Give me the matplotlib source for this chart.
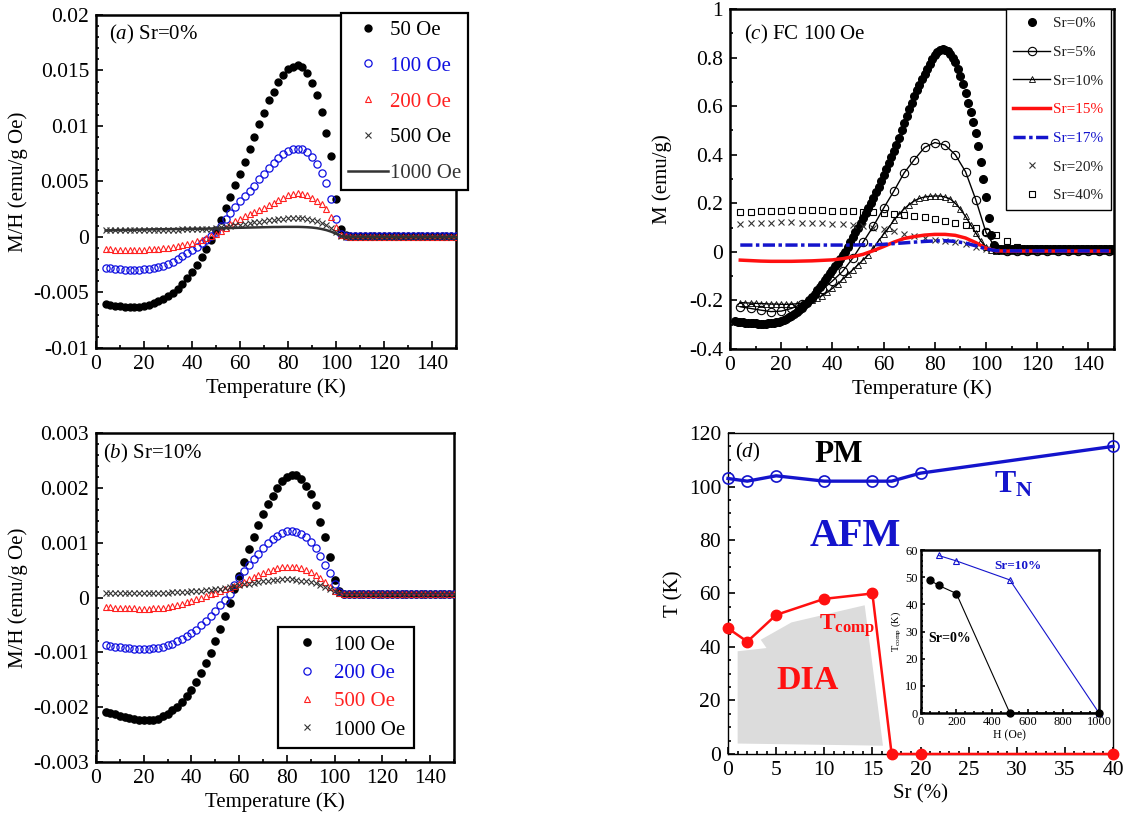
import numpy as np
import matplotlib
matplotlib.use('Agg')
import matplotlib.pyplot as plt
from matplotlib.ticker import MultipleLocator, AutoMinorLocator, FuncFormatter

plt.rcParams['font.family'] = ['Liberation Serif', 'DejaVu Serif']
plt.rcParams['mathtext.fontset'] = 'custom'
plt.rcParams['mathtext.rm'] = 'Liberation Serif'
plt.rcParams['mathtext.it'] = 'Liberation Serif:italic'
plt.rcParams['mathtext.bf'] = 'Liberation Serif:bold'
plt.rcParams['axes.unicode_minus'] = False

BLUE = '#1414cc'
RED = '#ff1010'

# ---------------- data ----------------
# (a) Sr=0%, M/H in 1e-3 emu/g Oe, T = 4..150 K step 2
T_a = np.arange(4, 151, 2)
a_50 = np.array([
    -6.05, -6.15, -6.2, -6.25, -6.28, -6.3, -6.3, -6.28, -6.22, -6.12,
    -5.98, -5.8, -5.58, -5.32, -5.02, -4.65, -4.22, -3.72, -3.15, -2.5,
    -1.8, -1.05, -0.25, 0.6, 1.55, 2.6, 3.6, 4.65, 5.7, 6.8,
    7.95, 9.05, 10.2, 11.2, 12.3, 13.1, 13.95, 14.6, 15.1, 15.35,
    15.45, 15.3, 14.8, 13.9, 12.75, 11.3, 9.4, 7.3, 3.45, 0.7,
    0.15, 0.1, 0.1, 0.1, 0.1, 0.1, 0.1, 0.1, 0.1, 0.1, 0.1, 0.1,
    0.1, 0.1, 0.1, 0.1, 0.1, 0.1, 0.1, 0.1, 0.1, 0.1, 0.1, 0.1]) * 1e-3
a_100 = np.array([
    -2.75, -2.8, -2.85, -2.9, -2.93, -2.95, -2.95, -2.94, -2.92, -2.87,
    -2.8, -2.7, -2.58, -2.42, -2.22, -2.0, -1.75, -1.48, -1.18, -0.88,
    -0.58, -0.28, 0.05, 0.45, 1.0, 1.6, 2.15, 2.7, 3.2, 3.65,
    4.12, 4.63, 5.2, 5.65, 6.2, 6.65, 7.1, 7.48, 7.72, 7.9,
    7.97, 7.9, 7.65, 7.2, 6.55, 5.8, 4.9, 3.4, 1.65, 0.3,
    0.08, 0.05, 0.05, 0.05, 0.05, 0.05, 0.05, 0.05, 0.05, 0.05, 0.05, 0.05,
    0.05, 0.05, 0.05, 0.05, 0.05, 0.05, 0.05, 0.05, 0.05, 0.05, 0.05, 0.05]) * 1e-3
a_200 = np.array([
    -1.08, -1.12, -1.14, -1.15, -1.16, -1.16, -1.16, -1.15, -1.14, -1.12,
    -1.09, -1.05, -1.0, -0.95, -0.88, -0.8, -0.7, -0.6, -0.5, -0.38,
    -0.25, -0.1, 0.08, 0.3, 0.55, 0.85, 1.15, 1.45, 1.65, 1.85,
    2.05, 2.25, 2.45, 2.65, 2.88, 3.1, 3.35, 3.55, 3.75, 3.9,
    3.95, 3.9, 3.75, 3.5, 3.25, 2.95, 2.55, 1.8, 0.9, 0.2,
    0.05, 0.03, 0.03, 0.03, 0.03, 0.03, 0.03, 0.03, 0.03, 0.03, 0.03, 0.03,
    0.03, 0.03, 0.03, 0.03, 0.03, 0.03, 0.03, 0.03, 0.03, 0.03, 0.03, 0.03]) * 1e-3
a_500 = np.array([
    0.6, 0.6, 0.6, 0.6, 0.61, 0.61, 0.62, 0.62, 0.63, 0.63,
    0.64, 0.64, 0.65, 0.65, 0.66, 0.67, 0.68, 0.69, 0.7, 0.71,
    0.72, 0.74, 0.76, 0.8, 0.86, 0.92, 0.98, 1.04, 1.1, 1.17,
    1.24, 1.31, 1.38, 1.44, 1.5, 1.55, 1.6, 1.64, 1.67, 1.7,
    1.7, 1.68, 1.62, 1.53, 1.42, 1.28, 1.1, 0.8, 0.45, 0.12,
    0.03, 0.02, 0.02, 0.02, 0.02, 0.02, 0.02, 0.02, 0.02, 0.02, 0.02, 0.02,
    0.02, 0.02, 0.02, 0.02, 0.02, 0.02, 0.02, 0.02, 0.02, 0.02, 0.02, 0.02]) * 1e-3
a_1000 = np.array([
    0.58, 0.6, 0.61, 0.62, 0.63, 0.64, 0.65, 0.66, 0.67, 0.68,
    0.69, 0.7, 0.7, 0.71, 0.71, 0.72, 0.72, 0.73, 0.73, 0.74,
    0.74, 0.75, 0.76, 0.77, 0.78, 0.8, 0.81, 0.82, 0.83, 0.84,
    0.85, 0.86, 0.87, 0.88, 0.89, 0.9, 0.9, 0.91, 0.91, 0.91,
    0.91, 0.9, 0.88, 0.85, 0.8, 0.72, 0.62, 0.48, 0.3, 0.1,
    0.02, 0.01, 0.01, 0.01, 0.01, 0.01, 0.01, 0.01, 0.01, 0.01, 0.01, 0.01,
    0.01, 0.01, 0.01, 0.01, 0.01, 0.01, 0.01, 0.01, 0.01, 0.01, 0.01, 0.01]) * 1e-3

# (b) Sr=10%, M/H in 1e-3 emu/g Oe
T_b = np.arange(4, 151, 2)
b_100 = np.array([
    -2.08, -2.11, -2.13, -2.16, -2.18, -2.2, -2.22, -2.23, -2.24, -2.24,
    -2.23, -2.21, -2.17, -2.12, -2.06, -1.99, -1.9, -1.8, -1.68, -1.54,
    -1.38, -1.2, -1.01, -0.8, -0.57, -0.34, -0.1, 0.16, 0.4, 0.64,
    0.88, 1.1, 1.32, 1.52, 1.7, 1.86, 2.0, 2.12, 2.2, 2.24,
    2.23, 2.16, 2.04, 1.88, 1.68, 1.38, 1.1, 0.73, 0.32, 0.12,
    0.07, 0.06, 0.06, 0.06, 0.06, 0.06, 0.06, 0.06, 0.06, 0.06, 0.06, 0.06,
    0.06, 0.06, 0.06, 0.06, 0.06, 0.06, 0.06, 0.06, 0.06, 0.06, 0.06, 0.06]) * 1e-3
b_200 = np.array([
    -0.87, -0.88, -0.9, -0.91, -0.92, -0.93, -0.94, -0.94, -0.94, -0.94,
    -0.93, -0.92, -0.9, -0.87, -0.84, -0.8, -0.76, -0.71, -0.65, -0.59,
    -0.51, -0.42, -0.33, -0.24, -0.14, -0.04, 0.07, 0.22, 0.36, 0.49,
    0.6, 0.7, 0.8, 0.9, 0.99, 1.07, 1.13, 1.18, 1.21, 1.22,
    1.2, 1.16, 1.1, 1.02, 0.9, 0.75, 0.6, 0.45, 0.24, 0.1,
    0.07, 0.06, 0.06, 0.06, 0.06, 0.06, 0.06, 0.06, 0.06, 0.06, 0.06, 0.06,
    0.06, 0.06, 0.06, 0.06, 0.06, 0.06, 0.06, 0.06, 0.06, 0.06, 0.06, 0.06]) * 1e-3
b_500 = np.array([
    -0.17, -0.18, -0.19, -0.19, -0.2, -0.2, -0.2, -0.21, -0.21, -0.21,
    -0.2, -0.2, -0.19, -0.18, -0.16, -0.14, -0.12, -0.09, -0.06, -0.03,
    0.0, 0.03, 0.06, 0.09, 0.12, 0.15, 0.18, 0.21, 0.25, 0.29,
    0.33, 0.37, 0.41, 0.45, 0.48, 0.51, 0.53, 0.55, 0.56, 0.56,
    0.55, 0.53, 0.5, 0.46, 0.41, 0.35, 0.28, 0.2, 0.12, 0.08,
    0.07, 0.06, 0.06, 0.06, 0.06, 0.06, 0.06, 0.06, 0.06, 0.06, 0.06, 0.06,
    0.06, 0.06, 0.06, 0.06, 0.06, 0.06, 0.06, 0.06, 0.06, 0.06, 0.06, 0.06]) * 1e-3
b_1000 = np.array([
    0.08, 0.08, 0.08, 0.08, 0.08, 0.08, 0.08, 0.08, 0.08, 0.08,
    0.085, 0.085, 0.09, 0.09, 0.095, 0.1, 0.1, 0.105, 0.11, 0.115,
    0.12, 0.13, 0.14, 0.15, 0.16, 0.175, 0.19, 0.205, 0.22, 0.24,
    0.255, 0.27, 0.285, 0.3, 0.31, 0.32, 0.325, 0.33, 0.33, 0.33,
    0.32, 0.31, 0.3, 0.28, 0.26, 0.23, 0.2, 0.16, 0.12, 0.08,
    0.07, 0.06, 0.06, 0.06, 0.06, 0.06, 0.06, 0.06, 0.06, 0.06, 0.06, 0.06,
    0.06, 0.06, 0.06, 0.06, 0.06, 0.06, 0.06, 0.06, 0.06, 0.06, 0.06, 0.06]) * 1e-3

# (c) FC 100 Oe, M in emu/g
T_c0 = np.arange(2, 151, 1)
c_0 = np.array([
    -0.285, -0.287, -0.289, -0.29, -0.291, -0.292, -0.293, -0.294, -0.295, -0.296,
    -0.296, -0.296, -0.296, -0.295, -0.294, -0.292, -0.29, -0.288, -0.285, -0.281,
    -0.276, -0.27, -0.263, -0.255, -0.247, -0.239, -0.23, -0.22, -0.21, -0.198,
    -0.185, -0.172, -0.159, -0.145, -0.131, -0.117, -0.103, -0.089, -0.075, -0.06,
    -0.045, -0.03, -0.015, 0.0, 0.02, 0.04, 0.06, 0.08, 0.1, 0.12,
    0.14, 0.16, 0.18, 0.2, 0.222, 0.245, 0.268, 0.291, 0.315, 0.34,
    0.365, 0.39, 0.415, 0.44, 0.47, 0.5, 0.53, 0.56, 0.59, 0.615,
    0.64, 0.665, 0.688, 0.71, 0.732, 0.755, 0.775, 0.793, 0.81, 0.824,
    0.833, 0.836, 0.833, 0.826, 0.815, 0.8, 0.78, 0.755, 0.725, 0.69,
    0.655, 0.615, 0.575, 0.535, 0.49, 0.435, 0.37, 0.3, 0.225, 0.14,
    0.07, 0.03, 0.015,
    0.01, 0.01, 0.01, 0.01, 0.01, 0.01, 0.01, 0.01, 0.01, 0.01,
    0.01, 0.01, 0.01, 0.01, 0.01, 0.01, 0.01, 0.01, 0.01, 0.01,
    0.01, 0.01, 0.01, 0.01, 0.01, 0.01, 0.01, 0.01, 0.01, 0.01,
    0.01, 0.01, 0.01, 0.01, 0.01, 0.01, 0.01, 0.01, 0.01, 0.01,
    0.01, 0.01, 0.01, 0.01, 0.01, 0.01])
T_c4 = np.arange(4, 149, 4)
c_5 = np.array([
    -0.226, -0.233, -0.24, -0.246, -0.244, -0.233, -0.215, -0.19, -0.155, -0.12,
    -0.08, -0.025, 0.04, 0.106, 0.18, 0.25, 0.325, 0.38, 0.43, 0.45,
    0.44, 0.4, 0.33, 0.215, 0.08, 0.01,
    0.005, 0.005, 0.005, 0.005, 0.005, 0.005, 0.005, 0.005, 0.005, 0.005, 0.005])
T_c2 = np.arange(4, 151, 2)
c_10 = np.array([
    -0.209, -0.21, -0.211, -0.212, -0.213, -0.214, -0.215, -0.215, -0.216, -0.216,
    -0.215, -0.214, -0.211, -0.205, -0.198, -0.19, -0.18, -0.166, -0.15, -0.133,
    -0.113, -0.093, -0.073, -0.053, -0.033, -0.012, 0.015, 0.045, 0.073, 0.1,
    0.13, 0.155, 0.177, 0.195, 0.21, 0.22, 0.226, 0.229, 0.23, 0.23,
    0.226, 0.218, 0.2, 0.176, 0.146, 0.112, 0.078, 0.045, 0.02, 0.008,
    0.005, 0.005, 0.005, 0.005, 0.005, 0.005, 0.005, 0.005, 0.005, 0.005, 0.005, 0.005,
    0.005, 0.005, 0.005, 0.005, 0.005, 0.005, 0.005, 0.005, 0.005, 0.005, 0.005, 0.005])
c_15 = np.array([
    -0.034, -0.036, -0.038, -0.039, -0.039, -0.039, -0.038, -0.037, -0.035, -0.033,
    -0.028, -0.02, -0.01, 0.005, 0.022, 0.04, 0.055, 0.063, 0.069, 0.072,
    0.072, 0.068, 0.057, 0.038, 0.015, 0.004,
    0.003, 0.003, 0.003, 0.003, 0.003, 0.003, 0.003, 0.003, 0.003, 0.003, 0.003])
c_17 = np.array([
    0.028, 0.028, 0.028, 0.028, 0.028, 0.028, 0.028, 0.028, 0.028, 0.028,
    0.028, 0.028, 0.029, 0.029, 0.031, 0.034, 0.037, 0.04, 0.043, 0.045,
    0.046, 0.043, 0.036, 0.025, 0.012, 0.005,
    0.004, 0.004, 0.004, 0.004, 0.004, 0.004, 0.004, 0.004, 0.004, 0.004, 0.004])
T_c20 = np.arange(4, 121, 4)
c_20 = np.array([
    0.115, 0.118, 0.12, 0.12, 0.122, 0.122, 0.12, 0.12, 0.118, 0.115,
    0.113, 0.11, 0.105, 0.1, 0.093, 0.084, 0.075, 0.066, 0.057, 0.05,
    0.046, 0.04, 0.032, 0.022, 0.012, 0.005, 0.005, 0.005, 0.005, 0.005])
c_40 = np.array([
    0.163, 0.163, 0.168, 0.168, 0.168, 0.172, 0.172, 0.172, 0.171, 0.17,
    0.169, 0.168, 0.166, 0.163, 0.16, 0.157, 0.153, 0.148, 0.142, 0.134,
    0.127, 0.12, 0.11, 0.1, 0.083, 0.068, 0.043, 0.021, 0.012, 0.01])

# (d) phase diagram
sr = [0, 2, 5, 10, 15, 17, 20, 40]
t_n = [103, 102, 104, 102, 102, 102, 105, 115]
t_comp = [47, 42, 52, 58, 60, 0, 0, 0]
dia_x = [1.0, 4.0, 3.4, 6.6, 14.2, 16.1, 1.0]
dia_y = [38.4, 39.6, 42.7, 49.2, 55.6, 3.1, 3.9]

# inset: Tcomp vs H
h_0 = [50, 100, 200, 500, 1000]
tc_0 = [49, 47, 44, 0, 0]
h_10 = [100, 200, 500, 1000]
tc_10 = [58, 56, 49, 0]

TICK_FS = 15.5
LAB_FS = 15


def fmt(v, pos):
    s = '%g' % round(v, 6)
    return '0' if s == '-0' else s


def style(ax, xmaj, ymaj, xmin_n, ymin_n, lw=1.8, fs=TICK_FS, mlen=5):
    for s in ax.spines.values():
        s.set_linewidth(lw)
    ax.xaxis.set_major_locator(MultipleLocator(xmaj))
    ax.yaxis.set_major_locator(MultipleLocator(ymaj))
    ax.xaxis.set_minor_locator(AutoMinorLocator(xmin_n))
    ax.yaxis.set_minor_locator(AutoMinorLocator(ymin_n))
    ax.xaxis.set_major_formatter(FuncFormatter(fmt))
    ax.yaxis.set_major_formatter(FuncFormatter(fmt))
    ax.tick_params(which='both', direction='in', top=False, right=False,
                   labelsize=fs, width=1.2)
    ax.tick_params(which='major', length=mlen)
    ax.tick_params(which='minor', length=mlen * 0.5)
    ax.tick_params(axis='y', pad=5)
    ax.tick_params(axis='x', pad=5)


fig = plt.figure(figsize=(11.28, 8.27), dpi=100)

# ---------------- (a) ----------------
ax = fig.add_axes([0.0851, 0.5792, 0.3191, 0.4027])
l1, = ax.plot(T_a, a_50, 'o', color='black', ms=5, zorder=3)
l2, = ax.plot(T_a, a_100, 'o', mfc='none', mec='#1010e0', ms=5.2, mew=0.9, zorder=4)
l3, = ax.plot(T_a, a_200, '^', mfc='none', mec='#ff2020', ms=5, mew=0.8, zorder=5)
l4, = ax.plot(T_a, a_500, 'x', color='#333333', ms=4.5, mew=0.8, zorder=6)
l5, = ax.plot(T_a, a_1000, '-', color='#333333', lw=1.8, zorder=7)
ax.set_xlim(0, 150)
ax.set_ylim(-0.01, 0.02)
style(ax, 20, 0.005, 2, 5)
ax.set_xlabel('Temperature (K)', fontsize=LAB_FS, labelpad=3)
ax.set_ylabel('M/H (emu/g Oe)', fontsize=LAB_FS)
ax.text(0.035, 0.94, r'($\it{a}$) Sr=0%', transform=ax.transAxes,
        fontsize=15, va='center')
leg = ax.legend([l1, l2, l3, l4, l5], ['50 Oe', '100 Oe', '200 Oe', '500 Oe', '1000 Oe'],
                loc='upper left', bbox_to_anchor=(0.68, 1.006), fontsize=15,
                labelcolor=['black', '#1010e0', '#ff2020', 'black', '#333333'],
                frameon=True, fancybox=False, edgecolor='black', framealpha=1,
                handlelength=1.9, handletextpad=0.1, labelspacing=0.78,
                borderpad=0.35, borderaxespad=0)
leg.get_frame().set_linewidth(1.6)
leg.set_zorder(10)

# ---------------- (b) ----------------
ax = fig.add_axes([0.0851, 0.0786, 0.3174, 0.3978])
l1, = ax.plot(T_b, b_100, 'o', color='black', ms=5.2, zorder=3)
l2, = ax.plot(T_b, b_200, 'o', mfc='none', mec='#1010e0', ms=5.2, mew=0.9, zorder=4)
l3, = ax.plot(T_b, b_500, '^', mfc='none', mec='#ff2020', ms=5, mew=0.8, zorder=5)
l4, = ax.plot(T_b, b_1000, 'x', color='#333333', ms=4.5, mew=0.8, zorder=6)
ax.set_xlim(0, 150)
ax.set_ylim(-0.003, 0.003)
style(ax, 20, 0.001, 2, 5)
ax.set_xlabel('Temperature (K)', fontsize=LAB_FS, labelpad=3)
ax.set_ylabel('M/H (emu/g Oe)', fontsize=LAB_FS)
ax.text(0.02, 0.938, r'($\it{b}$) Sr=10%', transform=ax.transAxes,
        fontsize=15, va='center')
leg = ax.legend([l1, l2, l3, l4], ['100 Oe', '200 Oe', '500 Oe', '1000 Oe'],
                loc='lower left', bbox_to_anchor=(0.509, 0.043), fontsize=15,
                labelcolor=['black', '#1010e0', '#ff2020', 'black'],
                frameon=True, fancybox=False, edgecolor='black', framealpha=1,
                handlelength=2.0, handletextpad=0.3, labelspacing=0.42,
                borderpad=0.4, borderaxespad=0)
leg.get_frame().set_linewidth(1.6)

# ---------------- (c) ----------------
ax = fig.add_axes([0.6472, 0.578, 0.3404, 0.4111])
h0, = ax.plot(T_c0, c_0, 'o', color='black', ms=5.5, zorder=3)
h5, = ax.plot(T_c4, c_5, '-o', color='black', mfc='none', lw=1.0, ms=6, mew=0.8, zorder=4)
h10, = ax.plot(T_c2, c_10, '-^', color='black', mfc='none', lw=1.0, ms=4.5, mew=0.6, zorder=4)
h15, = ax.plot(T_c4, c_15, '-', color=RED, lw=2.5, zorder=5)
h17, = ax.plot(T_c4, c_17, '-.', color=BLUE, lw=2.5, dashes=[3.5, 1, 1, 1], zorder=5)
h20, = ax.plot(T_c20, c_20, 'x', color='#333333', ms=4, mew=0.8, zorder=3)
h40, = ax.plot(T_c20, c_40, 's', color='black', mfc='none', ms=4.5, mew=0.8, zorder=3)
ax.set_xlim(0, 150)
ax.set_ylim(-0.4, 1.0)
style(ax, 20, 0.2, 2, 2)
ax.set_xlabel('Temperature (K)', fontsize=LAB_FS, labelpad=3)
ax.set_ylabel('M (emu/g)', fontsize=LAB_FS, labelpad=12)
ax.text(0.036, 0.924, r'($\it{c}$) FC 100 Oe', transform=ax.transAxes,
        fontsize=15, va='center')
leg = ax.legend([h0, h5, h10, h15, h17, h20, h40],
                ['Sr=0%', 'Sr=5%', 'Sr=10%', 'Sr=15%', 'Sr=17%', 'Sr=20%', 'Sr=40%'],
                loc='upper right', bbox_to_anchor=(0.992, 1.0), fontsize=11,
                labelcolor=['#222222', '#222222', '#222222', RED, BLUE, '#222222', '#222222'],
                frameon=True, fancybox=False, edgecolor='black', framealpha=1,
                handlelength=2.4, handletextpad=0.2, labelspacing=0.98,
                borderpad=0.5, borderaxespad=0)
leg.get_frame().set_linewidth(1.0)

# ---------------- (d) ----------------
ax = fig.add_axes([0.6454, 0.0883, 0.3413, 0.3881])
ax.fill(dia_x, dia_y, color='#dcdcdc', lw=0, zorder=1)
ax.plot(sr, t_n, '-o', color=BLUE, mfc='none', lw=2.4, ms=8, mew=1.2,
        clip_on=False, zorder=4)
ax.plot(sr, t_comp, '-o', color=RED, lw=1.8, ms=7.5, clip_on=False, zorder=4)
ax.set_xlim(0, 40)
ax.set_ylim(0, 120)
style(ax, 5, 20, 5, 4, lw=1.0)
ax.set_xlabel('Sr (%)', fontsize=LAB_FS, labelpad=3)
ax.set_ylabel('T (K)', fontsize=LAB_FS)
ax.text(0.018, 0.94, r'($\it{d}$)', transform=ax.transAxes, fontsize=15, va='center')
ax.text(11.5, 111.8, 'PM', fontsize=22.5, fontweight='bold', ha='center', va='center')
ax.text(13.2, 81.4, 'AFM', fontsize=29, fontweight='bold', color=BLUE,
        ha='center', va='center')
ax.text(27.6, 97.6, r'$\mathbf{T}_{\mathbf{N}}$', fontsize=23, color=BLUE,
        ha='left', va='baseline')
ax.text(9.5, 46.5, r'$\mathbf{T}_{\mathbf{comp}}$', fontsize=17, color=RED,
        ha='left', va='baseline')
ax.text(8.3, 27.3, 'DIA', fontsize=24.5, fontweight='bold', color=RED,
        ha='center', va='center')

# inset
axi = fig.add_axes([0.8162, 0.1378, 0.1581, 0.1971])
axi.plot(h_0, tc_0, '-o', color='black', lw=0.8, ms=5, clip_on=False, zorder=4)
axi.plot(h_10, tc_10, '-^', color=BLUE, mfc='none', lw=0.8, ms=5, mew=0.8,
         clip_on=False, zorder=3)
axi.set_xlim(0, 1000)
axi.set_ylim(0, 60)
style(axi, 200, 10, 4, 5, lw=1.8, fs=9, mlen=3)
axi.tick_params(axis='both', pad=2)
axi.set_xlabel('H (Oe)', fontsize=8.5, labelpad=1)
axi.set_ylabel(r'T$_{\rm comp}$ (K)', fontsize=7.5, labelpad=2)
axi.text(544, 54.2, 'Sr=10%', fontsize=9.5, fontweight='bold', color=BLUE,
         ha='center', va='center')
axi.text(160, 27.5, 'Sr=0%', fontsize=10, fontweight='bold', color='black',
         ha='center', va='center')

fig.savefig('out.png', dpi=100)
